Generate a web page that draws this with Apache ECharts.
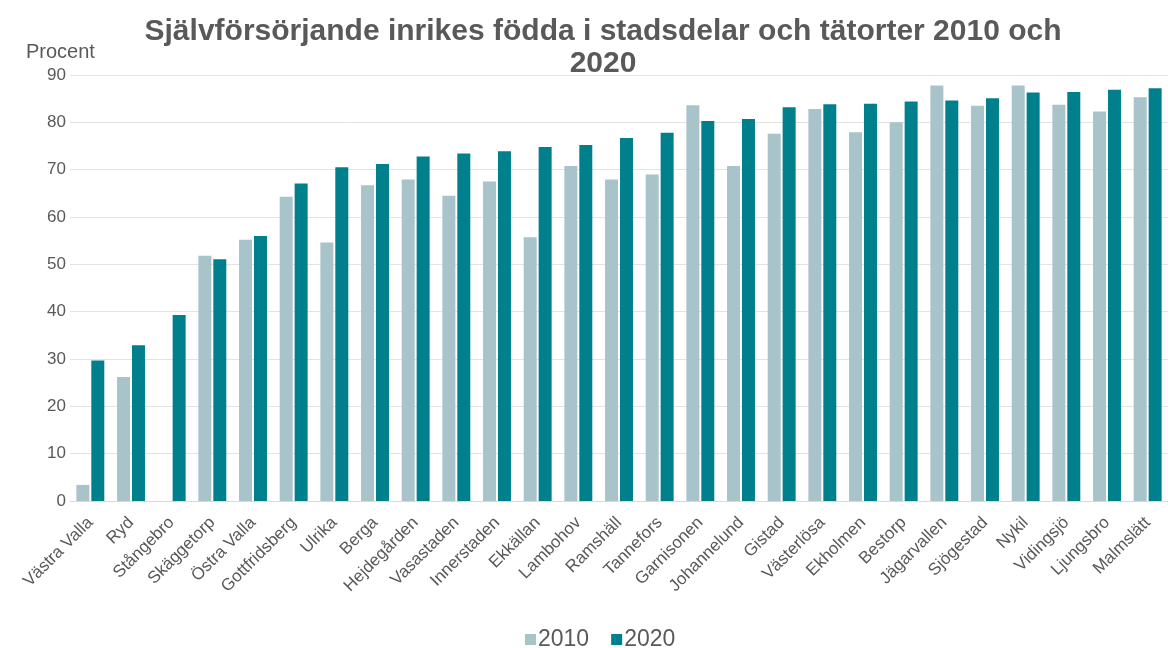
<!DOCTYPE html>
<html>
<head>
<meta charset="utf-8">
<script src="https://cdn.jsdelivr.net/npm/echarts@6/dist/echarts.min.js"></script>
<style>
  html, body { margin: 0; padding: 0; background: #ffffff; }
  #chart { width: 1168px; height: 648px; }
</style>
</head>
<body>
<div id="chart"></div>
<script>
// Stadsdelar och tätorter, sorted by 2020 share
const areas = [
  'Västra Valla', 'Ryd', 'Stångebro', 'Skäggetorp', 'Östra Valla', 'Gottfridsberg',
  'Ulrika', 'Berga', 'Hejdegården', 'Vasastaden', 'Innerstaden', 'Ekkällan',
  'Lambohov', 'Ramshäll', 'Tannefors', 'Garnisonen', 'Johannelund', 'Gistad',
  'Västerlösa', 'Ekholmen', 'Bestorp', 'Jägarvallen', 'Sjögestad', 'Nykil',
  'Vidingsjö', 'Ljungsbro', 'Malmslätt'
];

// Andel självförsörjande inrikes födda, procent
const values2010 = [
  3.4, 26.2, null, 51.8, 55.2, 64.3,
  54.6, 66.7, 67.9, 64.5, 67.5, 55.7,
  70.8, 67.9, 69.0, 83.6, 70.8, 77.6,
  82.8, 77.9, 80.0, 87.8, 83.5, 87.8,
  83.7, 82.3, 85.3
];
const values2020 = [
  29.7, 32.9, 39.3, 51.1, 56.0, 67.1,
  70.5, 71.2, 72.8, 73.4, 73.9, 74.8,
  75.2, 76.7, 77.8, 80.3, 80.7, 83.2,
  83.8, 83.9, 84.4, 84.6, 85.1, 86.3,
  86.4, 86.9, 87.2
];

const seriesNames = ['2010', '2020'];
const titleText = 'Självförsörjande inrikes födda i stadsdelar och tätorter 2010 och\n2020';
const unitLabel = 'Procent';

const textColor = '#595959';
const font = '"Liberation Sans", Arial, sans-serif';

const chart = echarts.init(document.getElementById('chart'), null, { renderer: 'canvas' });

chart.setOption({
  backgroundColor: '#ffffff',
  animation: false,
  title: {
    text: titleText,
    left: 598,
    textAlign: 'center',
    top: 11,
    textStyle: {
      fontFamily: font,
      fontSize: 30,
      fontWeight: 'bold',
      color: textColor,
      lineHeight: 32
    }
  },
  graphic: [{
    type: 'text',
    left: 26,
    top: 42,
    style: {
      text: unitLabel,
      font: '20px ' + font,
      fill: textColor
    }
  }],
  legend: {
    data: seriesNames,
    top: 623,
    left: 520,
    itemWidth: 11,
    itemHeight: 11,
    itemGap: 22,
    icon: 'rect',
    textStyle: {
      fontFamily: font,
      fontSize: 23,
      color: textColor,
      padding: [0, 0, 0, -3]
    }
  },
  grid: {
    left: 70,
    right: 0,
    top: 75,
    bottom: 147,
    containLabel: false
  },
  xAxis: {
    type: 'category',
    data: areas,
    axisTick: { show: false },
    axisLine: { lineStyle: { color: '#d9d9d9', width: 1 } },
    axisLabel: {
      interval: 0,
      rotate: 45,
      margin: 19,
      fontFamily: font,
      fontSize: 17,
      color: textColor
    }
  },
  yAxis: {
    type: 'value',
    min: 0,
    max: 90,
    interval: 10,
    axisLine: { show: false },
    axisTick: { show: false },
    splitLine: { lineStyle: { color: '#e3e3e3', width: 1 } },
    axisLabel: {
      margin: 4,
      fontFamily: font,
      fontSize: 17,
      color: textColor
    }
  },
  series: [
    {
      name: seriesNames[0],
      type: 'bar',
      data: values2010,
      barWidth: 13,
      barGap: '15%',
      itemStyle: { color: '#a8c4ca' }
    },
    {
      name: seriesNames[1],
      type: 'bar',
      data: values2020,
      barWidth: 13,
      barGap: '15%',
      itemStyle: { color: '#00808c' }
    }
  ]
});
</script>
</body>
</html>
